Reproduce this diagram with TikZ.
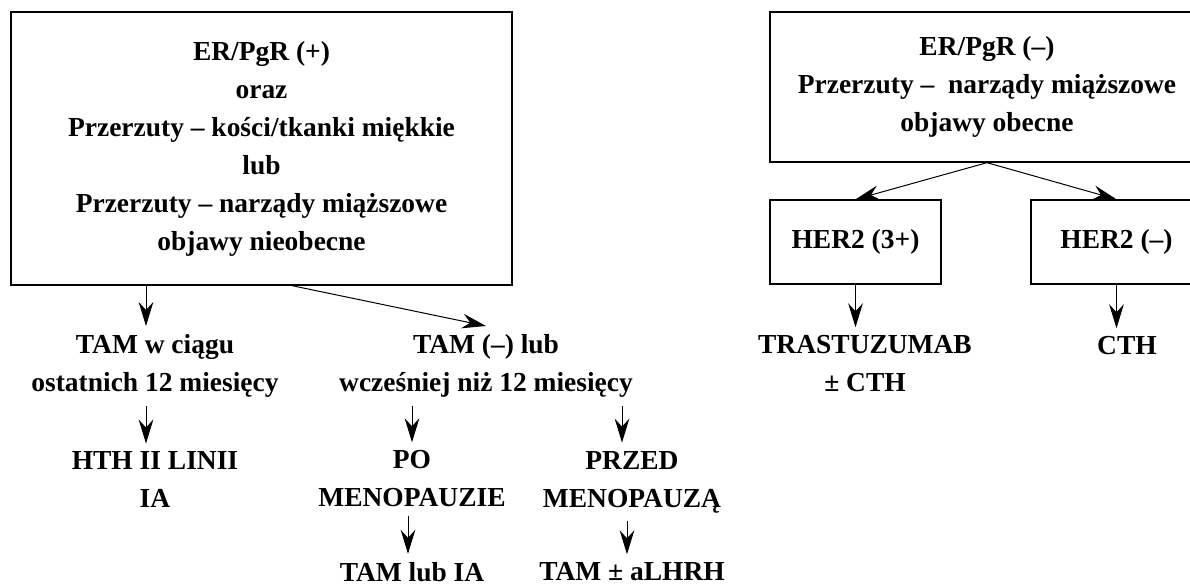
\documentclass[tikz,border=0pt]{standalone}
\usepackage{fontspec}
\setmainfont{Liberation Serif}
\usetikzlibrary{arrows.meta}

\tikzset{every picture/.style={line width=0.75pt}}
\tikzset{
	box/.style={draw, line width=1pt, align=center, inner sep=0pt},
	txt/.style={align=center, inner xsep=0pt, inner ysep=6pt},
	arr/.style={-{Stealth[length=18pt,width=11pt,inset=6pt]}},
}
\newcommand{\diagfont}{\fontsize{20.6}{28.5}\selectfont\bfseries}

\begin{document}
\begin{tikzpicture}[x=0.75pt,y=0.75pt,yscale=-1,xscale=1,font=\diagfont]
	\useasboundingbox (0,0) rectangle (1190,585);
	\clip (0,0) rectangle (1190,585);
	
	% Boxes
	\node[box, minimum width=375.75pt, minimum height=204.75pt] (lbox) at (261.5,148.5) {ER/PgR (+)\\oraz\\Przerzuty -- kości/tkanki miękkie\\lub\\Przerzuty -- narządy miąższowe\\objawy nieobecne};
	\node[box, minimum width=325.5pt, minimum height=112.5pt] (rbox) at (987,87) {ER/PgR (--)\\Przerzuty --\ \ narządy miąższowe\\objawy obecne};
	\node[box, minimum width=128.25pt, minimum height=63pt] (her3) at (855.5,242) {HER2 (3+)};
	\node[box, minimum width=128.25pt, minimum height=63pt] (herm) at (1116.5,242) {HER2 (--)};
	
	% Text Nodes
	\node[txt] (tamw) at (155,366) {TAM w ciągu\\ostatnich 12 miesięcy};
	\node[txt] (tamm) at (486,366) {TAM (--) lub\\wcześniej niż 12 miesięcy};
	\node[txt] (hth) at (155,480) {HTH II LINII\\IA};
	\node[txt] (po) at (412,479) {PO\\MENOPAUZIE};
	\node[txt] (przed) at (632,482) {PRZED\\MENOPAUZĄ};
	\node[txt] (tamia) at (412,572) {TAM lub IA};
	\node[txt] (tamlhrh) at (632,572) {TAM ± aLHRH};
	\node[txt] (trast) at (865,364) {TRASTUZUMAB\\± CTH};
	\node[txt] (cth) at (1127,346) {CTH};
	
	% Arrows
	\draw[arr] ([xshift=-6.75pt]tamw.north |- lbox.south) -- ([xshift=-6.75pt]tamw.north);
	\draw[arr] ([xshift=22.9pt]lbox.south) -- (tamm.north);
	\draw[arr] ([xshift=-6.75pt]tamw.south) -- ([xshift=-6.75pt]hth.north);
	\draw[arr] (tamm.south -| po.north) -- (po.north);
	\draw[arr] ([xshift=-7.5pt]tamm.south -| przed.north) -- ([xshift=-7.5pt]przed.north);
	\draw[arr] ([xshift=-3pt]po.south) -- ([xshift=-3pt]tamia.north);
	\draw[arr] ([xshift=-3.75pt]przed.south) -- ([xshift=-3.75pt]tamlhrh.north);
	\draw[arr] (rbox.south) -- (her3.north);
	\draw[arr] (rbox.south) -- (herm.north);
	\draw[arr] (her3.south) -- (her3.south |- trast.north);
	\draw[arr] (herm.south) -- (herm.south |- cth.north);
	
\end{tikzpicture}
\end{document}
